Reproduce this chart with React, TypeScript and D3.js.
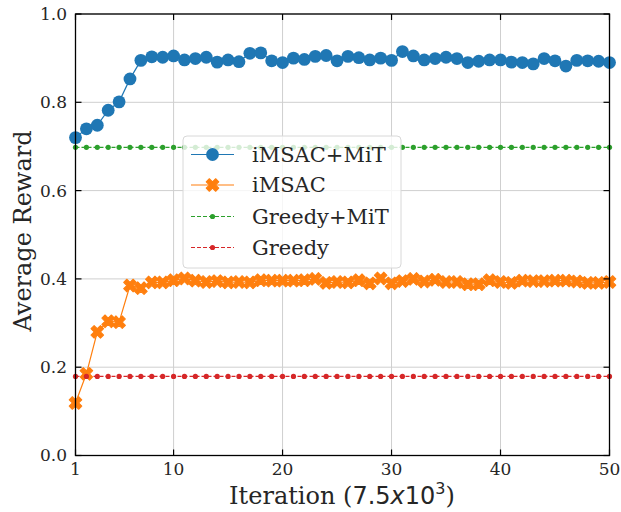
import React from "react";
import * as d3 from "d3";

// Iteration index (in units of 7.5x10^3 steps)
const iterations: number[] = d3.range(1, 51);

const imsacMit: number[] = [
  0.720, 0.740, 0.748, 0.782, 0.801, 0.853, 0.895, 0.903, 0.902, 0.905,
  0.896, 0.899, 0.902, 0.891, 0.896, 0.892, 0.911, 0.912, 0.894, 0.890,
  0.900, 0.897, 0.904, 0.906, 0.894, 0.904, 0.901, 0.896, 0.900, 0.895,
  0.915, 0.905, 0.896, 0.899, 0.902, 0.899, 0.890, 0.893, 0.896, 0.896,
  0.891, 0.890, 0.887, 0.899, 0.894, 0.882, 0.895, 0.894, 0.893, 0.890,
];

const imsac: number[] = [
  0.119, 0.185, 0.280, 0.304, 0.302, 0.385, 0.379, 0.392, 0.392, 0.397,
  0.401, 0.396, 0.393, 0.395, 0.392, 0.393, 0.392, 0.397, 0.396, 0.396,
  0.396, 0.397, 0.400, 0.391, 0.393, 0.392, 0.397, 0.390, 0.401, 0.390,
  0.395, 0.400, 0.394, 0.398, 0.393, 0.393, 0.388, 0.388, 0.397, 0.393,
  0.391, 0.396, 0.395, 0.395, 0.396, 0.396, 0.394, 0.391, 0.391, 0.393,
];

const greedyMit: number[] = iterations.map(() => 0.698);
const greedy: number[] = iterations.map(() => 0.179);

const xTicks: number[] = [1, 10, 20, 30, 40, 50];
const yTicks: number[] = [0, 0.2, 0.4, 0.6, 0.8, 1.0];

const seriesNames: string[] = ["iMSAC+MiT", "iMSAC", "Greedy+MiT", "Greedy"];
const seriesColors: string[] = ["#1f77b4", "#ff7f0e", "#2ca02c", "#d62728"];

const SERIF = "'DejaVu Serif', serif";
const SANS = "'DejaVu Sans', sans-serif";

const W = 621;
const H = 512;
const left = 75.5;
const right = 609.5;
const top = 14;
const bottom = 455.5;

export default function App() {
  const x = d3.scaleLinear().domain([1, 50]).range([left, right]);
  const y = d3.scaleLinear().domain([0, 1]).range([bottom, top]);

  const line = d3
    .line<number>()
    .x((_, i) => x(iterations[i]))
    .y((d) => y(d));

  const xCross = d3.symbol(d3.symbolCross, 100)() as string;
  const gridColor = "#cfcfcf";
  const tickLen = 6;

  const allSeries = [imsacMit, imsac, greedyMit, greedy];

  const marker = (k: number, cx: number, cy: number, key: string) => {
    const c = seriesColors[k];
    if (k === 0) return <circle key={key} cx={cx} cy={cy} r={6.4} fill={c} />;
    if (k === 1)
      return (
        <path
          key={key}
          d={xCross}
          transform={`translate(${cx},${cy}) rotate(45)`}
          fill={c}
          stroke={c}
          strokeWidth={1}
          strokeLinejoin="round"
        />
      );
    return <circle key={key} cx={cx} cy={cy} r={2.6} fill={c} />;
  };

  const legX = 183;
  const legY = 136;
  const legW = 218;
  const legH = 132;
  const rowY = [154.5, 185, 216.5, 247.5];

  return (
    <svg width={W} height={H} style={{ position: "absolute", left: 0, top: 0 }}>
      <rect x={0} y={0} width={W} height={H} fill="#fff" />

      {/* grid */}
      {xTicks.map((t) => (
        <line key={"gx" + t} x1={x(t)} x2={x(t)} y1={top} y2={bottom} stroke={gridColor} strokeWidth={1} />
      ))}
      {yTicks.map((t) => (
        <line key={"gy" + t} x1={left} x2={right} y1={y(t)} y2={y(t)} stroke={gridColor} strokeWidth={1} />
      ))}

      {/* series lines */}
      {allSeries.map((s, k) => (
        <path
          key={"l" + k}
          d={line(s) as string}
          fill="none"
          stroke={seriesColors[k]}
          strokeWidth={1.2}
          strokeDasharray={k >= 2 ? "4,2" : undefined}
        />
      ))}
      {/* series markers */}
      {allSeries.map((s, k) => (
        <g key={"m" + k}>{s.map((v, i) => marker(k, x(iterations[i]), y(v), `${k}-${i}`))}</g>
      ))}

      {/* spines */}
      <rect x={left} y={top} width={right - left} height={bottom - top} fill="none" stroke="#000" strokeWidth={1.3} />

      {/* ticks, pointing inward on all four sides */}
      {xTicks.map((t) => (
        <g key={"tx" + t}>
          <line x1={x(t)} x2={x(t)} y1={bottom} y2={bottom - tickLen} stroke="#000" strokeWidth={1.2} />
          <line x1={x(t)} x2={x(t)} y1={top} y2={top + tickLen} stroke="#000" strokeWidth={1.2} />
          <text x={x(t)} y={475} textAnchor="middle" fontFamily={SERIF} fontSize={17} fill="#262626">
            {t}
          </text>
        </g>
      ))}
      {yTicks.map((t) => (
        <g key={"ty" + t}>
          <line x1={left} x2={left + tickLen} y1={y(t)} y2={y(t)} stroke="#000" strokeWidth={1.2} />
          <line x1={right} x2={right - tickLen} y1={y(t)} y2={y(t)} stroke="#000" strokeWidth={1.2} />
          <text x={67} y={y(t)} dy="0.35em" textAnchor="end" fontFamily={SERIF} fontSize={17} fill="#262626">
            {t.toFixed(1)}
          </text>
        </g>
      ))}

      {/* axis titles */}
      <text x={342} y={504} textAnchor="middle" fontFamily={SERIF} fontSize={24} fill="#262626">
        Iteration (<tspan fontFamily={SANS}>7.5</tspan>
        <tspan fontFamily={SANS} fontStyle="italic">x</tspan>
        <tspan fontFamily={SANS}>10</tspan>
        <tspan fontFamily={SANS} fontSize={16} dy={-10}>3</tspan>
        <tspan dy={10}>)</tspan>
      </text>
      <text
        transform={`translate(31,231) rotate(-90)`}
        textAnchor="middle"
        fontFamily={SERIF}
        fontSize={24}
        fill="#262626"
      >
        Average Reward
      </text>

      {/* legend */}
      <rect x={legX} y={legY} width={legW} height={legH} rx={4} fill="#fff" fillOpacity={0.8} stroke="#d8d8d8" strokeWidth={1} />
      {seriesNames.map((name, k) => (
        <g key={"lg" + k}>
          <line
            x1={191}
            x2={234}
            y1={rowY[k]}
            y2={rowY[k]}
            stroke={seriesColors[k]}
            strokeWidth={1.2}
            strokeDasharray={k >= 2 ? "4,2" : undefined}
          />
          {marker(k, 212.5, rowY[k], "lm" + k)}
          <text x={252} y={rowY[k]} dy="0.35em" fontFamily={SERIF} fontSize={21} fill="#262626">
            {name}
          </text>
        </g>
      ))}
    </svg>
  );
}
